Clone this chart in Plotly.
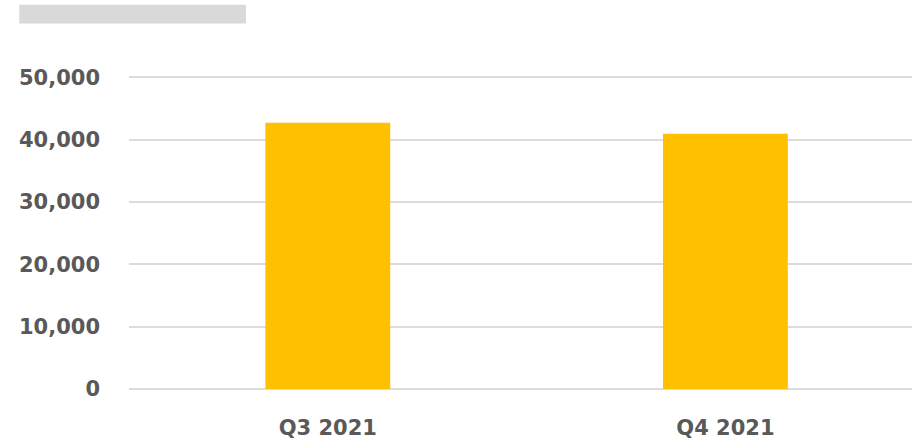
import plotly.graph_objects as go

categories = ["Q3 2021", "Q4 2021"]
values = [42700, 40950]
tick_vals = [0, 10000, 20000, 30000, 40000, 50000]
tick_text = ["0", "10,000", "20,000", "30,000", "40,000", "50,000"]

W, H = 912, 442
px_per_unit = 62.32 / 10000
y_top = 51000
B = 52.7
T = 389.3 - y_top * px_per_unit
L, R = 129, 0
pw, ph = W - L - R, H - T - B

font = dict(family="DejaVu Sans", size=21, color="#595959", weight="bold")

fig = go.Figure()
fig.add_trace(go.Bar(x=categories, y=values, marker=dict(color="#FFC000", line=dict(width=0)),
                     width=0.314, hoverinfo="skip"))

def px_x(x):
    return (x - L) / pw

def px_y(y):
    return (H - B - y) / ph

fig.add_shape(type="rect", xref="paper", yref="paper",
              x0=px_x(19.3), x1=px_x(246), y0=px_y(24), y1=px_y(5.3),
              fillcolor="#d9d9d9", line=dict(width=0), layer="above")

fig.update_layout(
    width=W, height=H,
    margin=dict(l=L, r=R, t=T, b=B, pad=0),
    plot_bgcolor="white", paper_bgcolor="white",
    showlegend=False,
    xaxis=dict(type="category", range=[-0.5, -0.5 + pw / 397.6], showgrid=False,
               showline=False, zeroline=False, tickfont=font, ticks="",
               ticklabelstandoff=24),
    yaxis=dict(range=[0, y_top], tickvals=tick_vals, ticktext=tick_text,
               showgrid=True, gridcolor="#dcdcdc", gridwidth=1.6,
               zeroline=True, zerolinecolor="#dcdcdc", zerolinewidth=1.6,
               showline=False, tickfont=font, ticks="", ticklabelstandoff=28),
)

fig.write_html("out.html")
